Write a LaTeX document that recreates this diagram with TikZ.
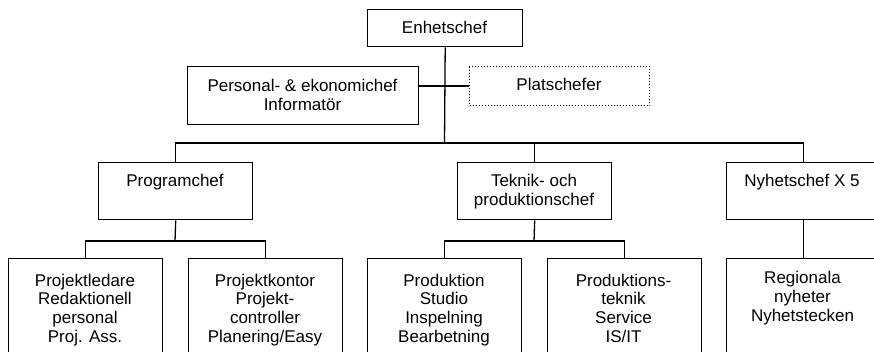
\documentclass[tikz,border=0pt]{standalone}
\usepackage{fontspec}
\setmainfont{Liberation Sans}
\begin{document}
\begin{tikzpicture}[x=1pt,y=-1pt,
  box/.style={draw=black,line width=1.4pt,rectangle,inner sep=0pt,anchor=north west},
  dotbox/.style={draw=black,line width=1pt,dotted,rectangle,inner sep=0pt,anchor=north west},
  txt/.style={inner sep=0pt,align=center,anchor=base,font=\fontsize{17}{18.6}\selectfont},
  conn/.style={draw=black,line width=1.3pt}]
\useasboundingbox (0,0) rectangle (874,351);
\clip (0,0) rectangle (874,351);
% boxes
\node[box,minimum width=155pt,minimum height=37pt] (enh) at (367,9) {};
\node[box,minimum width=231pt,minimum height=58pt] (pers) at (187,66) {};
\node[dotbox,minimum width=180pt,minimum height=39pt] (plat) at (469,66) {};
\node[box,minimum width=154pt,minimum height=57pt] (prog) at (98,162) {};
\node[box,minimum width=154pt,minimum height=57pt] (tek) at (457,162) {};
\node[box,minimum width=153pt,minimum height=57pt] (nyh) at (726,162) {};
\node[box,minimum width=154pt,minimum height=110pt] (b1) at (8,258) {};
\node[box,minimum width=154pt,minimum height=110pt] (b2) at (188,258) {};
\node[box,minimum width=154pt,minimum height=110pt] (b3) at (367,258) {};
\node[box,minimum width=154pt,minimum height=110pt] (b4) at (547,258) {};
\node[box,minimum width=153pt,minimum height=110pt] (b5) at (726,258) {};
% texts (anchored at the baseline of their last line)
\node[txt] (tenh) at (444.5,33) {Enhetschef};
\node[txt] (tpers) at (302.5,110) {Personal- \& ekonomichef\\Informatör};
\node[txt] (tplat) at (559,90) {Platschefer};
\node[txt] (tprog) at (175,186) {Programchef};
\node[txt] (ttek) at (534,205) {Teknik- och\\produktionschef};
\node[txt] (tnyh) at (802,186) {Nyhetschef X 5};
\node[txt] (tb1) at (85,342) {Projektledare\\Redaktionell\\personal\\Proj. Ass.};
\node[txt] (tb2) at (265,342) {Projektkontor\\Projekt-\\controller\\Planering/Easy};
\node[txt] (tb3) at (444,342) {Produktion\\Studio\\Inspelning\\Bearbetning};
\node[txt] (tb4) at (623.5,342) {Produktions-\\teknik\\Service\\IS/IT};
\node[txt] (tb5) at (802.5,321) {Regionala\\nyheter\\Nyhetstecken};
% junctions
\coordinate (j0) at (444.5,143);
\coordinate (jp) at (175,241);
\coordinate (jt) at (534,241);
% connectors
\draw[conn] (enh.south) -- (j0);
\draw[conn] (pers.east |- plat.west) -- (plat.west);
\draw[conn] (prog.north) |- (j0) -| (nyh.north);
\draw[conn] (tek.north) -- (tek.north |- j0);
\draw[conn] (prog.south) -- (jp);
\draw[conn] (b1.north) |- (jp) -| (b2.north);
\draw[conn] (tek.south) -- (jt);
\draw[conn] (b3.north) |- (jt) -| (b4.north);
\draw[conn] (nyh.south) -- (b5.north);
\end{tikzpicture}
\end{document}
